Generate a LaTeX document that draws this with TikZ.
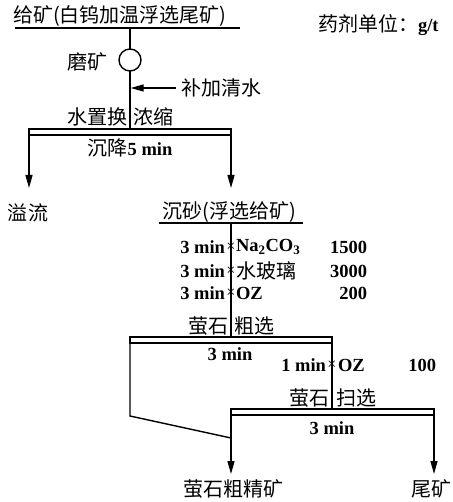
\documentclass[tikz,border=0pt]{standalone}
\usepackage{fontspec}
\setmainfont{Liberation Serif}
\newfontfamily\cjk{Noto Sans CJK SC}
\newcommand{\B}[1]{{\fontsize{18.5}{18.5}\selectfont\bfseries #1}}
\newcommand{\C}[1]{{\fontsize{20}{20}\selectfont\mdseries\cjk #1}}
\usetikzlibrary{arrows.meta}
\begin{document}
\begin{tikzpicture}[x=1pt,y=-1pt,
  every node/.style={inner sep=0pt,outer sep=0pt},
  ln/.style={line width=1.4pt},
  arr/.style={line width=1.4pt,-{Triangle[length=13pt,width=7pt]}},
  cell/.style={line width=1.4pt},
  xm/.style={font=\fontsize{16}{16}\selectfont}]
\useasboundingbox (0,0) rectangle (452,502);
% feed
\node[anchor=west] (feed) at (13,16) {\C{给矿(白钨加温浮选尾矿)}};
\node[anchor=west] (unit) at (318,25) {\C{药剂单位：}\B{g/t}};
\coordinate (fl) at (15,28); \coordinate (fr) at (240,28);
\draw[ln] (fl) -- (fr);
\coordinate (ftop) at (130,28);
\node[circle,draw,line width=1.4pt,minimum size=22pt] (mill) at (130,60) {};
\node (milltxt) at (87,62) {\C{磨矿}};
\draw[ln] (ftop) -- (mill.north);
\coordinate (b1t) at (130,129);
\draw[ln] (mill.south) -- (b1t);
\coordinate (wsrc) at (176,88); \coordinate (wdst) at (130.7,88);
\draw[arr] (wsrc) -- (wdst);
\node[anchor=west] (water) at (181,88) {\C{补加清水}};
\node[anchor=east] (l1) at (127,117) {\C{水置换}};
\node[anchor=west] (r1) at (133,117) {\C{浓缩}};
% box 1
\draw[cell] (29,129) rectangle (231,135);
\node (t1) at (130,148) {\C{沉降}\B{5 min}};
\coordinate (b1l) at (29,135); \coordinate (b1r) at (231,135);
\node (over) at (28,213) {\C{溢流}};
\node (sand) at (229,212) {\C{沉砂(浮选给矿)}};
\coordinate (o1) at (29,188); \coordinate (s1) at (231,188);
\draw[arr] (b1l) -- (o1);
\draw[arr] (b1r) -- (s1);
\draw[ln] (159,223) -- (303,223);
\coordinate (st) at (231,223); \coordinate (b2t) at (231,337);
\draw[ln] (st) -- (b2t);
% reagents
\foreach \y/\r/\n [count=\i] in {247/{\B{Na\textsubscript{2}CO\textsubscript{3}}}/1500, 271/{\C{水玻璃}}/3000, 293/{\B{OZ}}/200}{
  \node[anchor=east] (tm\i) at (225,\y) {\B{3 min}};
  \node[xm] (x\i) at (231,\y) {×};
  \node[anchor=west] (rg\i) at (236,\y) {\r};
  \node[anchor=east] (d\i) at (367,\y) {\B{\n}};
}
\node[anchor=east] (l2) at (228,326) {\C{萤石}};
\node[anchor=west] (r2) at (234,326) {\C{粗选}};
% box 2
\draw[cell] (130,337) rectangle (332,343);
\node (t2) at (230,354) {\B{3 min}};
\coordinate (b2r) at (332,343); \coordinate (b3t) at (332,409);
\draw[ln] (b2r) -- (b3t);
\node[anchor=east] (tm4) at (326,365) {\B{1 min}};
\node[xm] (x4) at (332,365) {×};
\node[anchor=west] (rg4) at (338,365) {\B{OZ}};
\node[anchor=east] (d4) at (436,365) {\B{100}};
\node[anchor=east] (l3) at (329,398) {\C{萤石}};
\node[anchor=west] (r3) at (336,398) {\C{扫选}};
% box 3
\draw[cell] (231,409) rectangle (434,415);
\node (t3) at (332,428) {\B{3 min}};
\coordinate (b2l) at (130,343); \coordinate (bend) at (130,416); \coordinate (join) at (231,438);
\draw[ln] (b2l) -- (bend) -- (join);
\coordinate (b3l) at (231,415); \coordinate (b3r) at (434,415);
\coordinate (c1) at (231,474); \coordinate (c2) at (434,474);
\draw[arr] (b3l) -- (c1);
\draw[arr] (b3r) -- (c2);
\node (conc) at (233,489) {\C{萤石粗精矿}};
\node[anchor=east] (tail) at (451,489) {\C{尾矿}};
\end{tikzpicture}
\end{document}
